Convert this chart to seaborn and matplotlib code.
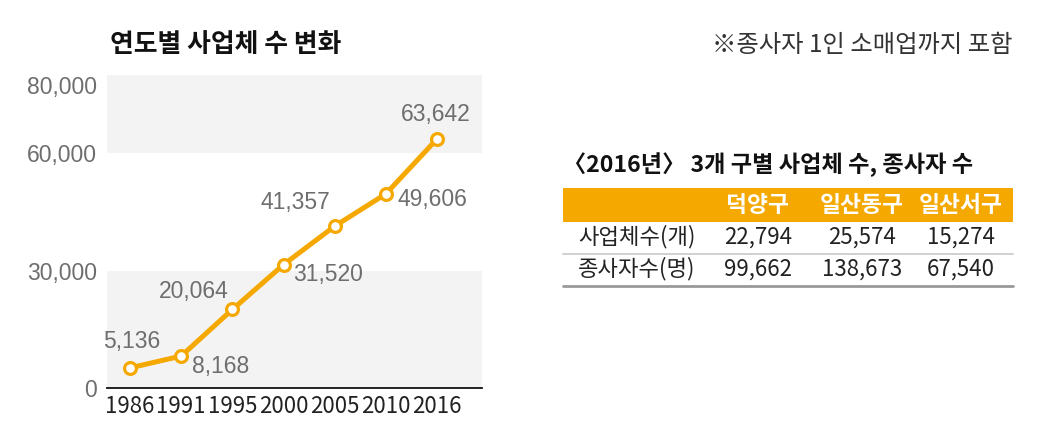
import numpy as np
import pandas as pd
import matplotlib
matplotlib.use("Agg")
import matplotlib.pyplot as plt
import matplotlib.transforms as mtransforms
import seaborn as sns

# 연도별 사업체 수
years = ["1986", "1991", "1995", "2000", "2005", "2010", "2016"]
counts = [5136, 8168, 20064, 31520, 41357, 49606, 63642]
y_ticks = [0, 30000, 60000, 80000]

# <2016년> 3개 구별 사업체 수, 종사자 수
districts = ["덕양구", "일산동구", "일산서구"]
row_names = ["사업체수(개)", "종사자수(명)"]
firms_2016 = [22794, 25574, 15274]
workers_2016 = [99662, 138673, 67540]

ORANGE = "#F5A800"
GRAY_TXT = "#6E6E6E"
BAND = "#F3F3F3"

sns.set_theme(style="white")
plt.rcParams["font.family"] = ["Noto Sans CJK KR", "DejaVu Sans"]

fig = plt.figure(figsize=(10.46, 4.37), dpi=100)
ax = fig.add_axes([107 / 1046, 49 / 437, 375 / 1046, 313 / 437])

# gray bands behind the line
ax.axhspan(60000, 80000, color=BAND, lw=0, zorder=0)
ax.axhspan(0, 30000, color=BAND, lw=0, zorder=0)

df = pd.DataFrame({"x": np.arange(len(years)), "count": counts})
sns.lineplot(data=df, x="x", y="count", ax=ax, color=ORANGE, linewidth=3.6,
             marker="o", markersize=8.5, markerfacecolor="white",
             markeredgecolor=ORANGE, markeredgewidth=2.3, zorder=3)

# value labels (offset in pixels, alignment)
label_pos = [
    ((2, 26), "center"),
    ((11, -10), "left"),
    ((-4, 18), "right"),
    ((10, -10), "left"),
    ((-4, 24), "right"),
    ((12, -6), "left"),
    ((-1, 25), "center"),
]
for i, v in enumerate(counts):
    off, ha = label_pos[i]
    ax.annotate(f"{v:,}", (i, v), xytext=off, textcoords="offset pixels",
                ha=ha, va="center", fontsize=16.5, color=GRAY_TXT,
                family=["Liberation Sans", "DejaVu Sans"])

ax.set_xlim(-0.45, 6.88)
ax.set_ylim(0, 80000)
ax.set_xticks(df["x"])
ax.set_xticklabels(years, fontsize=16, color="#222222")
ax.set_yticks(y_ticks)
ax.set_yticklabels([f"{t:,}" for t in y_ticks], fontsize=16.5, color=GRAY_TXT,
                   family=["Liberation Sans", "DejaVu Sans"])
ax.tick_params(axis="x", direction="in", length=7, width=1, color="#999999", pad=5)
ax.tick_params(axis="y", length=0, pad=7)
# top label sits inside the plot area
top_lbl = ax.get_yticklabels()[-1]
top_lbl.set_transform(top_lbl.get_transform() +
                      mtransforms.ScaledTranslation(0, -10 / 100, fig.dpi_scale_trans))
ax.set_xlabel("")
ax.set_ylabel("")
for s in ["top", "right", "left"]:
    ax.spines[s].set_visible(False)
ax.spines["bottom"].set_color("#111111")
ax.spines["bottom"].set_linewidth(1.3)

# overlay in pixel coordinates for titles and the table
ov = fig.add_axes([0, 0, 1, 1], zorder=5)
ov.set_xlim(0, 1046)
ov.set_ylim(437, 0)
ov.axis("off")

ov.text(110, 45, "연도별 사업체 수 변화", fontsize=18.6, fontweight="bold",
        color="#111111", va="center", ha="left")
ov.text(1012, 45, "※종사자 1인 소매업까지 포함", fontsize=17.5,
        color="#333333", va="center", ha="right")

# table
tbl_left, tbl_right = 563, 1013
head_top, head_bot = 188, 222
row_h = 32
col_x = [758, 862, 961]
label_x = 578

ov.text(563, 165, "〈2016년〉 3개 구별 사업체 수, 종사자 수", fontsize=16.7,
        fontweight="bold", color="#111111", va="center", ha="left")
ov.fill_between([tbl_left, tbl_right], head_top, head_bot, color=ORANGE, lw=0)
for j, name in enumerate(districts):
    ov.text(col_x[j], (head_top + head_bot) / 2, name, fontsize=16.4,
            fontweight="bold", color="white", ha="center", va="center")

rows = [firms_2016, workers_2016]
for r, (rname, vals) in enumerate(zip(row_names, rows)):
    yc = head_bot + row_h * r + 15
    ov.text(label_x, yc, rname, fontsize=16, color="#222222",
            ha="left", va="center")
    for j, v in enumerate(vals):
        ov.text(col_x[j], yc, f"{v:,}", fontsize=16, color="#222222",
                ha="center", va="center")
    ybot = head_bot + row_h * (r + 1)
    ov.plot([tbl_left, tbl_right], [ybot, ybot],
            color="#999999" if r == 1 else "#C8C8C8",
            lw=2 if r == 1 else 1.2)

fig.savefig("out.png", dpi=100)
